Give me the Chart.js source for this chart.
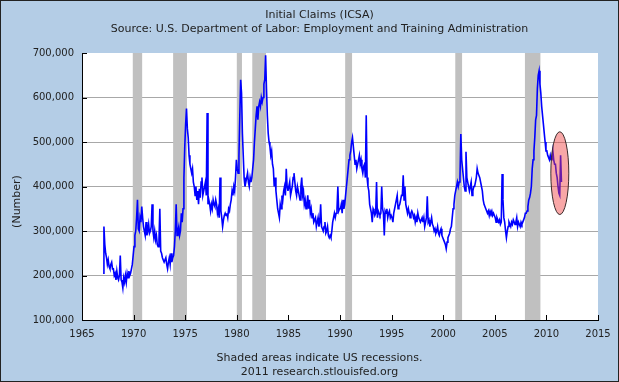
<!DOCTYPE html>
<html>
<head>
<meta charset="utf-8">
<script src="https://cdn.jsdelivr.net/npm/chart.js@4.4.1/dist/chart.umd.min.js"></script>
<style>
html,body{margin:0;padding:0;background:#ffffff;}
canvas{display:block;}
</style>
</head>
<body>
<canvas id="c" width="619" height="382"></canvas>
<script>
// Monthly readings of weekly initial claims, in thousands, starting January 1967
const startYear = 1967;
const claims1960s = [
  205, 310, 270, 250, 240, 225, 235, 220, 215, 225, 230, 215,
  215, 200, 205, 190, 210, 195, 190, 200, 245, 190, 185, 172,
  195, 185, 200, 185, 205, 195, 210, 200, 205, 215, 225, 245
];
const claims1970s = [
  265, 290, 300, 330, 370, 305, 300, 330, 320, 355, 330, 310,
  300, 290, 320, 290, 300, 315, 295, 300, 310, 360, 300, 285,
  300, 280, 290, 270, 265, 280, 350, 255, 250, 240, 235, 230,
  230, 240, 225, 215, 230, 240, 225, 250, 230, 240, 245, 265,
  300, 360, 290, 300, 310, 290, 300, 340, 320, 350, 420, 490,
  540, 575, 530, 510, 470, 450, 440, 430, 440, 410, 400, 380,
  400, 370, 390, 360, 395, 375, 410, 420, 380, 390, 400, 410,
  380, 565, 360, 370, 360, 345, 360, 350, 370, 360, 355, 370,
  360, 340, 350, 330, 420, 345, 330, 310, 325, 335, 340, 335,
  340, 330, 350, 345, 360, 370, 390, 380, 400, 390, 420, 460
];
const claims1980s = [
  440, 430, 470, 560, 640, 610, 520, 470, 420, 400, 410, 420,
  430, 410, 400, 420, 410, 420, 440, 460, 500, 530, 560, 580,
  550, 580, 590, 580, 600, 590, 600, 630, 640, 695, 620, 560,
  520, 500, 490, 470, 480, 450, 440, 400, 420, 390, 370, 350,
  340, 330, 360, 350, 380, 370, 390, 400, 380, 440, 400, 390,
  400, 410, 380, 390, 400, 420, 430, 410, 390, 380, 400, 390,
  380, 370, 400, 420, 380, 390, 360, 370, 350, 360, 380, 350,
  370, 340, 350, 330, 340, 320, 325, 330, 310, 320, 330, 310,
  320, 360, 310, 305, 300, 310, 320, 295, 300, 310, 290, 285,
  290, 285, 300, 320, 330, 340, 330, 340, 350, 400, 345, 350
];
const claims1990s = [
  350, 360, 340, 370, 350, 360, 380, 400, 420, 440, 460, 470,
  480, 500, 510, 490, 470, 450, 460, 440, 450, 460, 470, 450,
  460, 440, 430, 445, 450, 420, 560, 420, 400, 390, 360, 350,
  340, 320, 350, 345, 335, 340, 410, 330, 345, 340, 335, 340,
  400, 350, 340, 290, 345, 340, 350, 330, 340, 345, 330, 335,
  330, 320, 340, 350, 360, 370, 380, 350, 355, 360, 370, 380,
  380, 425, 370, 400, 360, 350, 340, 350, 340, 330, 340, 345,
  340, 330, 335, 320, 330, 320, 340, 330, 325, 320, 325, 330,
  320, 330, 310, 320, 330, 378, 320, 325, 310, 320, 330, 315,
  310, 300, 305, 295, 300, 310, 295, 290, 300, 305, 290, 285
];
const claims2000s = [
  280, 275, 270, 260, 275, 285, 290, 295, 305, 310, 330, 350,
  360, 380, 390, 400, 410, 400, 410, 420, 518, 460, 440, 420,
  400, 390, 478, 420, 410, 400, 390, 400, 410, 380, 390, 400,
  400, 410, 420, 440, 430, 430, 420, 410, 400, 390, 370, 360,
  360, 350, 345, 340, 345, 335, 345, 340, 345, 335, 340, 335,
  330, 320, 330, 325, 320, 325, 315, 320, 428, 370, 330, 320,
  300, 285, 300, 310, 320, 315, 310, 320, 315, 325, 320, 315,
  320, 330, 310, 320, 315, 310, 320, 315, 320, 325, 330, 340,
  340, 345, 355, 370, 375, 385, 400, 440, 460, 480, 510, 550,
  560, 620, 650, 660, 630, 610, 580, 560, 540, 520, 500, 480
];
const claims2010s = [
  480, 470, 465, 460, 470, 460, 465, 480, 460, 450, 450, 430,
  420, 400, 385, 380, 470, 410
];

const recessionStarts = [1969.92, 1973.83, 1980.0, 1981.5, 1990.5, 2001.17, 2007.92];
const recessionEnds   = [1970.83, 1975.17, 1980.5, 1982.83, 1991.17, 2001.83, 2009.42];

const titleLines = ['Initial Claims (ICSA)', 'Source: U.S. Department of Labor: Employment and Training Administration'];
const footerLines = ['Shaded areas indicate US recessions.', '2011 research.stlouisfed.org'];
const yAxisLabel = '(Number)';

const xMin = 1965, xMax = 2015, xStep = 5;
const yMin = 100000, yMax = 700000, yStep = 100000;

const highlightCenter = [2011.3, 430000];
const highlightRadius = [0.87, 93000];

// build the series
const allClaims = [].concat(claims1960s, claims1970s, claims1980s, claims1990s, claims2000s, claims2010s);
const points = allClaims.map((v, i) => ({ x: startYear + (i + 0.5) / 12, y: v * 1000 }));

const FONT = 'DejaVu Sans';
const TEXT = '#222222';

const decor = {
  id: 'decor',
  beforeDraw(chart) {
    const { ctx, width, height, chartArea: a } = chart;
    ctx.save();
    ctx.fillStyle = '#B4CDE6';
    ctx.fillRect(0, 0, width, height);
    ctx.fillStyle = '#FFFFFF';
    ctx.fillRect(a.left, a.top, a.right - a.left, a.bottom - a.top);
    ctx.restore();
  },
  beforeDatasetsDraw(chart) {
    const { ctx, chartArea: a, scales } = chart;
    const xs = scales.x;
    ctx.save();
    ctx.fillStyle = '#C0C0C0';
    for (let i = 0; i < recessionStarts.length; i++) {
      const x0 = xs.getPixelForValue(recessionStarts[i]);
      const x1 = xs.getPixelForValue(recessionEnds[i]);
      ctx.fillRect(x0, a.top, x1 - x0, a.bottom - a.top);
    }
    ctx.restore();
  },
  afterDatasetsDraw(chart) {
    const { ctx, chartArea: a, scales } = chart;
    const xs = scales.x, ys = scales.y;
    ctx.save();
    // highlight ellipse
    const cx = xs.getPixelForValue(highlightCenter[0]);
    const cy = ys.getPixelForValue(highlightCenter[1]);
    const rx = Math.abs(xs.getPixelForValue(highlightCenter[0] + highlightRadius[0]) - cx);
    const ry = Math.abs(ys.getPixelForValue(highlightCenter[1] + highlightRadius[1]) - cy);
    ctx.beginPath();
    ctx.ellipse(cx, cy, rx, ry, 0, 0, Math.PI * 2);
    ctx.fillStyle = 'rgba(240,60,60,0.45)';
    ctx.fill();
    ctx.lineWidth = 1;
    ctx.strokeStyle = '#3a2a2a';
    ctx.stroke();
    // inward tick marks
    ctx.strokeStyle = '#000000';
    ctx.lineWidth = 1;
    ctx.beginPath();
    xs.ticks.forEach(t => {
      const px = Math.round(xs.getPixelForValue(t.value)) + 0.5;
      ctx.moveTo(px, a.bottom);
      ctx.lineTo(px, a.bottom - 5);
    });
    ys.ticks.forEach(t => {
      const py = Math.round(ys.getPixelForValue(t.value)) + 0.5;
      ctx.moveTo(a.left, py);
      ctx.lineTo(a.left + 5, py);
    });
    ctx.stroke();
    // y axis name
    ctx.translate(17, (a.top + a.bottom) / 2 + 15);
    ctx.rotate(-Math.PI / 2);
    ctx.fillStyle = TEXT;
    ctx.font = '11px "' + FONT + '"';
    ctx.textAlign = 'center';
    ctx.textBaseline = 'middle';
    ctx.fillText(yAxisLabel, 0, 0);
    ctx.restore();
  },
  afterDraw(chart) {
    const { ctx, width, height } = chart;
    ctx.save();
    ctx.strokeStyle = '#222222';
    ctx.lineWidth = 1;
    ctx.strokeRect(0.5, 0.5, width - 1, height - 1);
    ctx.restore();
  }
};

new Chart(document.getElementById('c'), {
  type: 'line',
  data: {
    datasets: [{
      data: points,
      borderColor: '#0000FF',
      borderWidth: 1.6,
      pointRadius: 0,
      tension: 0,
      fill: false
    }]
  },
  options: {
    responsive: false,
    animation: false,
    devicePixelRatio: 1,
    layout: { padding: { left: 20, right: 0, top: 0, bottom: 0 } },
    plugins: {
      legend: { display: false },
      tooltip: { enabled: false },
      title: {
        display: true,
        text: titleLines,
        color: TEXT,
        font: { family: FONT, size: 11, weight: 'normal', lineHeight: '14px' },
        padding: { top: 8, bottom: 17 }
      },
      subtitle: {
        display: true,
        position: 'bottom',
        text: footerLines,
        color: TEXT,
        font: { family: FONT, size: 11, weight: 'normal', lineHeight: '14px' },
        padding: { top: 1, bottom: 3 }
      }
    },
    scales: {
      x: {
        type: 'linear',
        min: xMin, max: xMax,
        afterFit(s) { s.height = 30; },
        ticks: {
          stepSize: xStep,
          color: TEXT,
          font: { family: FONT, size: 10 },
          padding: 8,
          maxRotation: 0,
          callback: v => String(v)
        },
        grid: { display: true, drawOnChartArea: false, drawTicks: false },
        border: { display: true, color: '#000000', width: 1 }
      },
      y: {
        min: yMin, max: yMax,
        afterFit(s) { s.width = 62; },
        ticks: {
          stepSize: yStep,
          color: TEXT,
          font: { family: FONT, size: 10 },
          padding: 8,
          callback: v => Number(v).toLocaleString('en-US')
        },
        grid: {
          drawTicks: false,
          color: ctx => (ctx.tick && (ctx.tick.value === yMax || ctx.tick.value === yMin)) ? 'rgba(0,0,0,0)' : '#A8A8A8',
          lineWidth: 1
        },
        border: { display: true, color: '#000000', width: 1 }
      },
      yRightMargin: {
        position: 'right',
        display: true,
        afterFit(s) { s.width = 21; },
        grid: { display: false, drawTicks: false },
        border: { display: false },
        ticks: { display: false }
      }
    }
  },
  plugins: [decor]
});
</script>
</body>
</html>
